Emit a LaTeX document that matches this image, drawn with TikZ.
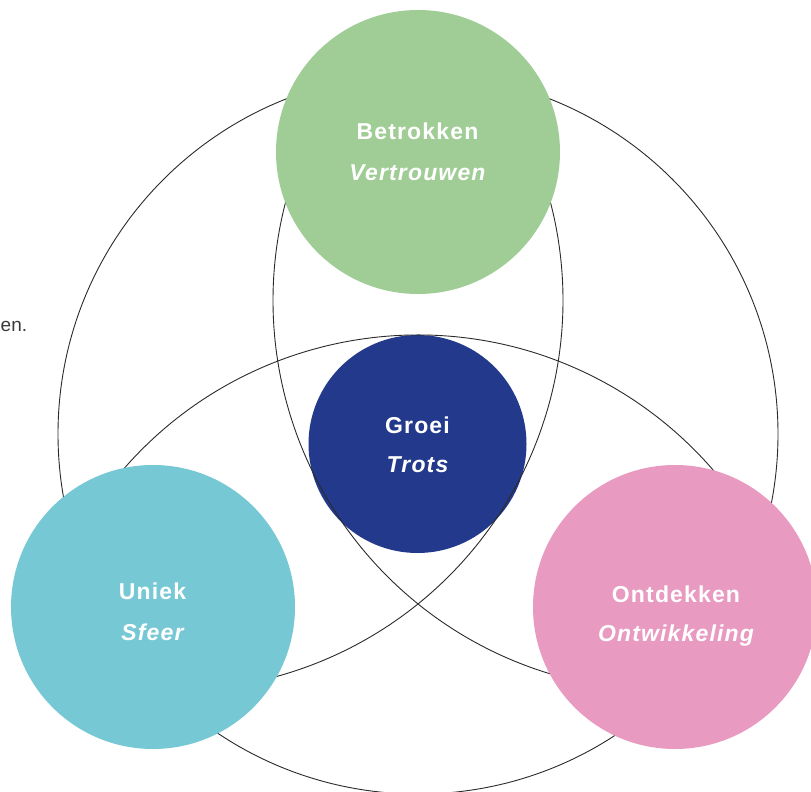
\documentclass[tikz,border=0pt]{standalone}
\usepackage{fontspec}
\setmainfont{Liberation Sans}
\definecolor{cgreen}{HTML}{A0CD96}
\definecolor{cblue}{HTML}{233A8C}
\definecolor{ccyan}{HTML}{77C8D5}
\definecolor{cpink}{HTML}{E89AC1}
\definecolor{cline}{HTML}{2A2A2A}
\definecolor{ctext}{HTML}{3A3A3A}
\begin{document}
\begin{tikzpicture}[x=1pt,y=-1pt,
  ring/.style={draw=cline, line width=0.9pt},
  disc/.style={circle, inner sep=0pt, draw=none, minimum size=284pt},
  lbl/.style={text=white, anchor=base, inner sep=0pt,
    font=\fontsize{23}{23}\selectfont\bfseries\addfontfeature{LetterSpace=5}},
  lblit/.style={lbl, font=\fontsize{23}{23}\selectfont\bfseries\itshape\addfontfeature{LetterSpace=5}}]
\useasboundingbox (0,0) rectangle (811,792);
% fragment of cropped text
\node[anchor=base west, inner sep=0pt, text=ctext, font=\fontsize{19}{19}\selectfont] (frag) at (0.5,331) {en.};
% central disc (below the rings)
\node[disc, fill=cblue, minimum size=218pt] (groei) at (417.5,444) {};
% rings
\coordinate (co) at (418,434);
\coordinate (cb) at (663,300.5);
\coordinate (cc) at (173,300.5);
\coordinate (cd) at (418,725);
\draw[ring] (co) circle[radius=360];
\draw[ring] (cb) ++(205:390) arc[start angle=205, end angle=95, radius=390];
\draw[ring] (cc) ++(-25:390) arc[start angle=-25, end angle=85, radius=390];
\draw[ring] (cd) ++(210:390) arc[start angle=210, end angle=330, radius=390];
% outer discs
\node[disc, fill=cgreen] (betrokken) at (418,152) {};
\node[disc, fill=ccyan] (uniek) at (153,607) {};
\node[disc, fill=cpink] (ontdekken) at (675,607) {};
% labels
\node[lbl] (l1a) at (417.5,139) {Betrokken};
\node[lblit] (l1b) at (417.5,180) {Vertrouwen};
\node[lbl] (l2a) at (417.5,433) {Groei};
\node[lblit] (l2b) at (417.5,472) {Trots};
\node[lbl] (l3a) at (152.5,599) {Uniek};
\node[lblit] (l3b) at (152.5,640) {Sfeer};
\node[lbl] (l4a) at (676,602) {Ontdekken};
\node[lblit] (l4b) at (676,641) {Ontwikkeling};
\end{tikzpicture}
\end{document}
